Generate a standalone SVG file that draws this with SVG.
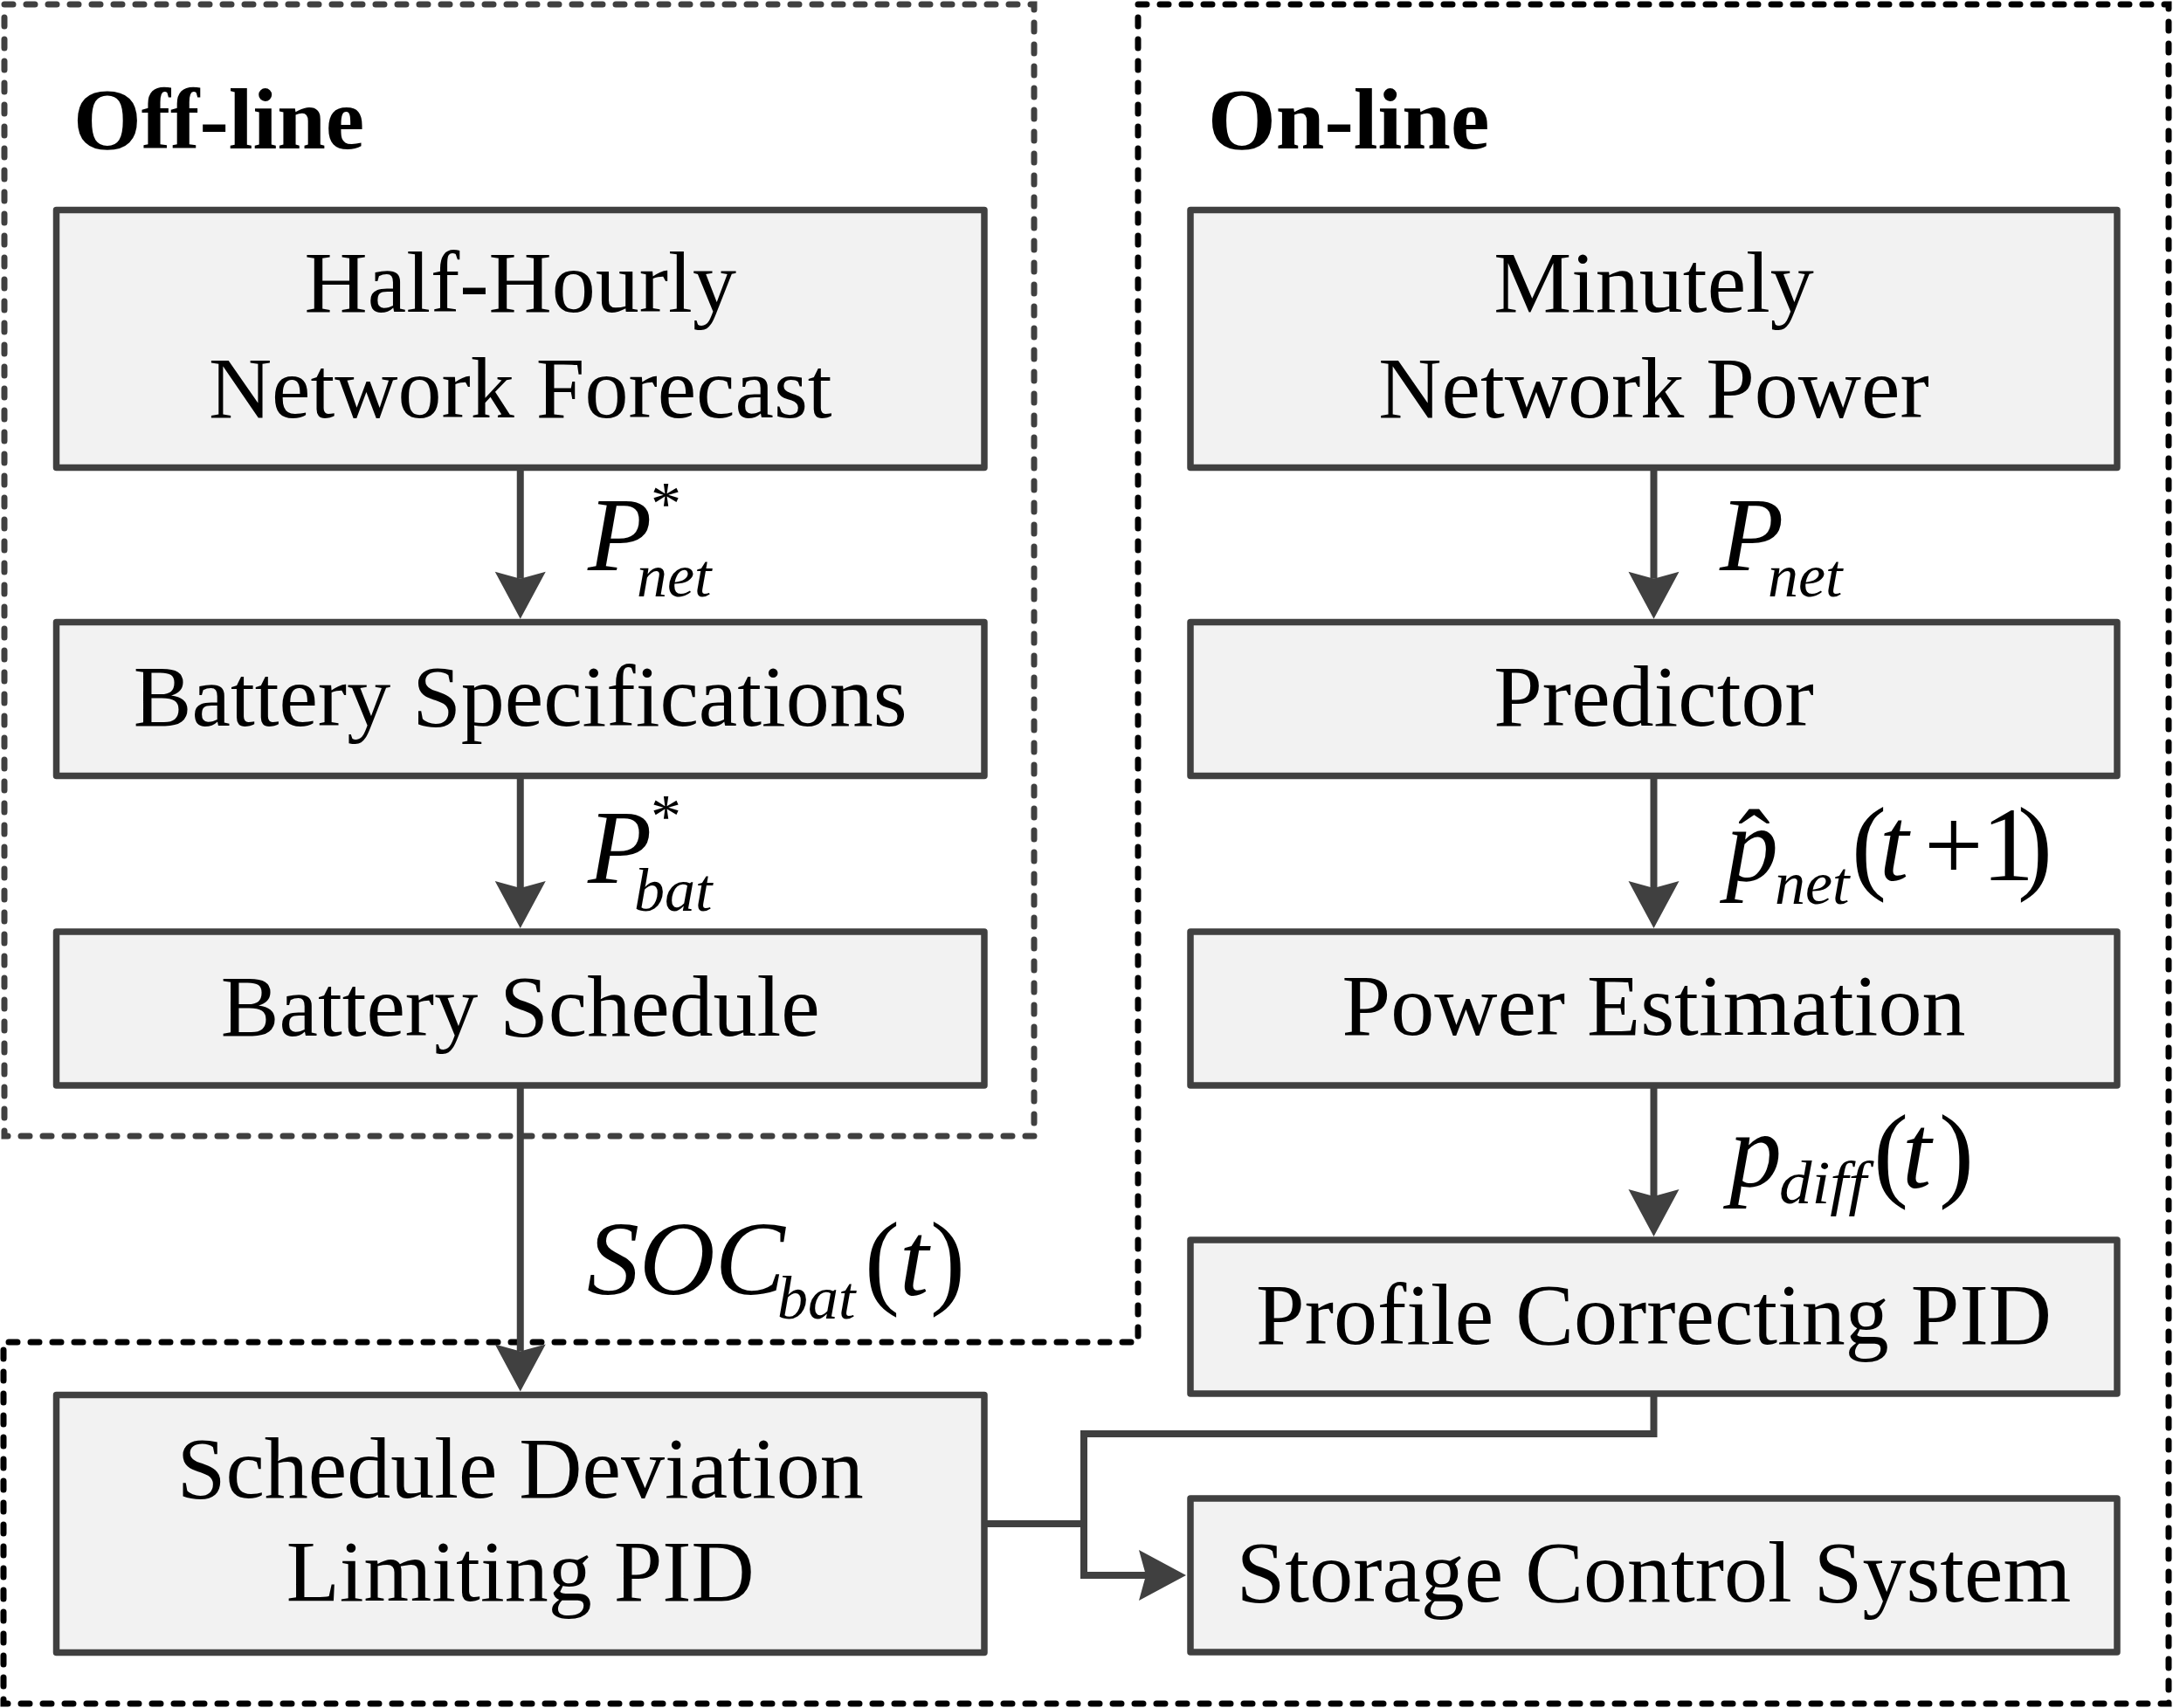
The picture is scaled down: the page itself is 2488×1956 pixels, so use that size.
<svg xmlns="http://www.w3.org/2000/svg" width="2488" height="1956" viewBox="0 0 2488 1956">
<style>
.bg{fill:#ffffff}
.box{fill:#f2f2f2;stroke:#404040;stroke-width:7.5;stroke-linejoin:round}
.lbl{font-family:"Liberation Serif","Times New Roman",serif;font-size:100px;fill:#000;text-anchor:middle}
.ttl{font-family:"Liberation Serif","Times New Roman",serif;font-size:100px;font-weight:bold;fill:#000}
.math{font-family:"Liberation Serif","Times New Roman",serif;font-size:120px;fill:#000}
.it{font-style:italic}
.up{font-style:normal}
.sub{font-size:70px;font-style:italic}
.ast{font-size:70px;font-style:normal}
.conn{fill:none;stroke:#404040;stroke-width:8;stroke-linejoin:miter}
.arr{marker-end:url(#ah)}
.grpOff{fill:none;stroke:#404040;stroke-width:7;stroke-dasharray:10 15;stroke-linecap:round}
.grpOn{fill:none;stroke:#000;stroke-width:7;stroke-dasharray:10 15;stroke-linecap:round}
</style>
<defs>
<marker id="ah" markerUnits="userSpaceOnUse" viewBox="-10 -31 58 62" markerWidth="58" markerHeight="62" refX="0" refY="0" orient="auto">
<path d="M46,0 L-8,-29 L0,0 L-8,29 Z" fill="#404040"/>
</marker>
</defs>
<rect class="bg" x="0" y="0" width="2488" height="1956"/>

<g id="group-offline">
<path class="grpOff" d="M5,5 H1184 V1301 H5 Z"/>
<text class="ttl" x="84" y="170">Off-line</text>
</g>
<g id="group-online">
<path class="grpOn" d="M1303,5 H2483 V1951 H4 V1537 H1303 Z"/>
<text class="ttl" x="1383" y="170">On-line</text>
</g>

<g id="connectors">
<path class="conn arr" d="M595.75,536 V662.75"/>
<path class="conn arr" d="M595.75,888 V1017"/>
<path class="conn arr" d="M595.75,1243 V1547.5"/>
<path class="conn arr" d="M1893.5,536 V662.75"/>
<path class="conn arr" d="M1893.5,888 V1017"/>
<path class="conn arr" d="M1893.5,1243 V1370"/>
<path class="conn arr" d="M1893.5,1596 V1642 H1241 V1804 H1312"/>
<path class="conn" d="M1127,1745 H1241"/>
</g>

<g id="labels">
<text id="lbl-pnet-star" class="math"><tspan class="it" x="673" y="653">P</tspan><tspan class="ast" x="745" y="600">*</tspan><tspan class="sub" x="729" y="683">net</tspan></text>
<text id="lbl-pbat-star" class="math"><tspan class="it" x="673" y="1011">P</tspan><tspan class="ast" x="745" y="958">*</tspan><tspan class="sub" x="726" y="1043">bat</tspan></text>
<text id="lbl-soc" class="math" font-size="124"><tspan class="it" x="672" y="1482">SOC</tspan><tspan class="sub" x="890" y="1510">bat</tspan><tspan class="up" x="990" y="1483">(</tspan><tspan class="it" x="1030" y="1483">t</tspan><tspan class="up" x="1065" y="1483">)</tspan></text>
<text id="lbl-pnet" class="math"><tspan class="it" x="1969" y="653">P</tspan><tspan class="sub" x="2024" y="683">net</tspan></text>
<text id="lbl-phat" class="math"><tspan class="it" x="1976" y="1008">p</tspan><tspan class="up" x="1990" y="1003" font-size="110">ˆ</tspan><tspan class="sub" x="2032" y="1035">net</tspan><tspan class="up" x="2120" y="1008">(</tspan><tspan class="it" x="2152" y="1008">t</tspan><tspan class="up" x="2203" y="1008">+</tspan><tspan class="up" x="2269" y="1008">1</tspan><tspan class="up" x="2310" y="1008">)</tspan></text>
<text id="lbl-pdiff" class="math"><tspan class="it" x="1980" y="1358">p</tspan><tspan class="sub" x="2037" y="1378" textLength="100" lengthAdjust="spacingAndGlyphs">diff</tspan><tspan class="up" x="2145" y="1360">(</tspan><tspan class="it" x="2178" y="1360">t</tspan><tspan class="up" x="2220" y="1360">)</tspan></text>
</g>

<g id="node-half-hourly">
<rect class="box" x="64.5" y="240.5" width="1062.5" height="295"/>
<text class="lbl" x="595.75" y="357">Half-Hourly</text>
<text class="lbl" x="595.75" y="478">Network Forecast</text>
</g>
<g id="node-battery-spec">
<rect class="box" x="64.5" y="712.5" width="1062.5" height="176"/>
<text class="lbl" x="595.75" y="831">Battery Specifications</text>
</g>
<g id="node-battery-schedule">
<rect class="box" x="64.5" y="1067" width="1062.5" height="176"/>
<text class="lbl" x="595.75" y="1186">Battery Schedule</text>
</g>
<g id="node-schedule-deviation">
<rect class="box" x="64.5" y="1597.5" width="1062.5" height="295"/>
<text class="lbl" x="595.75" y="1715">Schedule Deviation</text>
<text class="lbl" x="595.75" y="1833">Limiting PID</text>
</g>
<g id="node-minutely">
<rect class="box" x="1363" y="240.5" width="1061" height="295"/>
<text class="lbl" x="1893.5" y="357">Minutely</text>
<text class="lbl" x="1893.5" y="478">Network Power</text>
</g>
<g id="node-predictor">
<rect class="box" x="1363" y="712.5" width="1061" height="176"/>
<text class="lbl" x="1893.5" y="831">Predictor</text>
</g>
<g id="node-power-estimation">
<rect class="box" x="1363" y="1067" width="1061" height="176"/>
<text class="lbl" x="1893.5" y="1185">Power Estimation</text>
</g>
<g id="node-profile-pid">
<rect class="box" x="1363" y="1420" width="1061" height="176"/>
<text class="lbl" x="1893.5" y="1539">Profile Correcting PID</text>
</g>
<g id="node-storage">
<rect class="box" x="1363" y="1716" width="1061" height="176"/>
<text class="lbl" x="1893.5" y="1834">Storage Control System</text>
</g>
</svg>
